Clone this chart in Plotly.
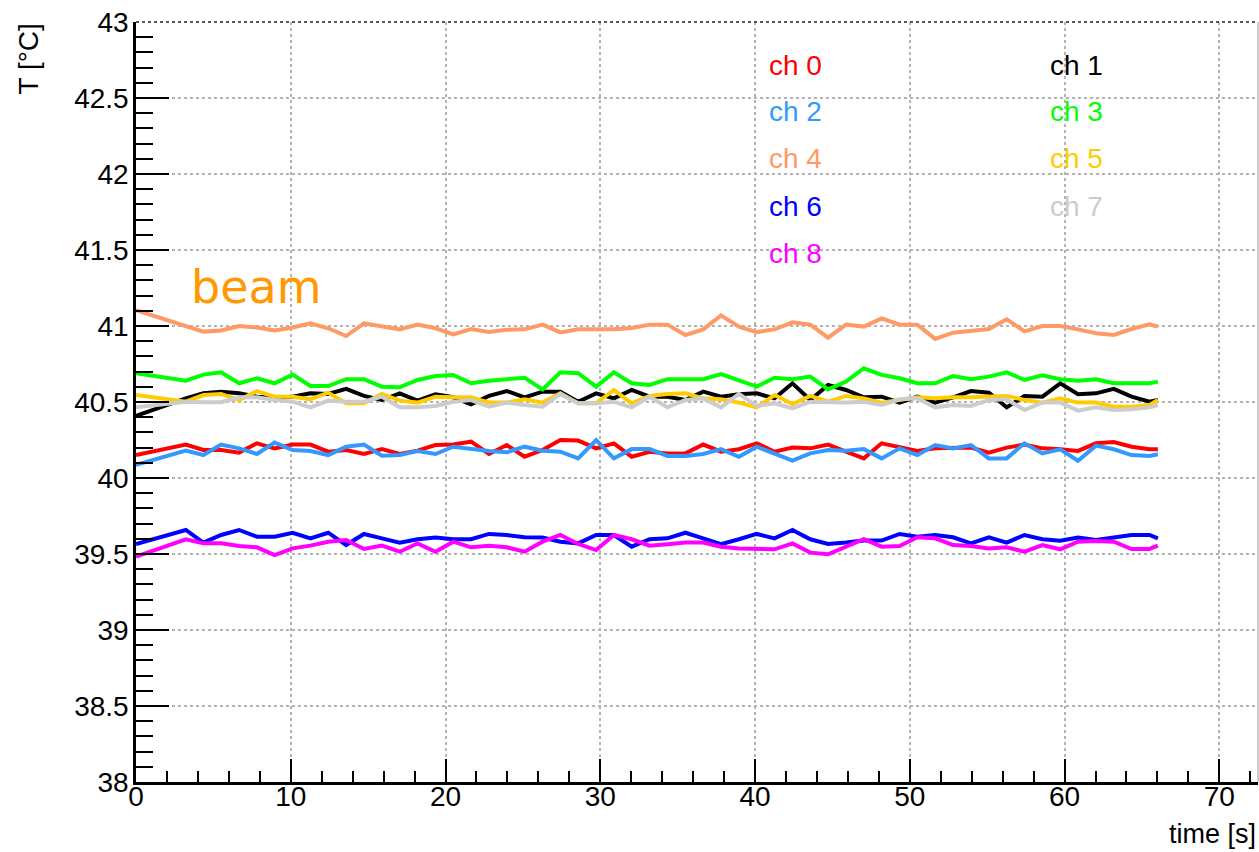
import plotly.graph_objects as go

times = [0, 3.22, 4.35, 5.50, 6.66, 7.81, 8.96, 10.12, 11.27, 12.42, 13.58, 14.73, 15.89,
         17.04, 18.19, 19.35, 20.50, 21.65, 22.81, 23.96, 25.11, 26.27, 27.42, 28.57, 29.73,
         30.88, 32.03, 33.19, 34.34, 35.50, 36.65, 37.80, 38.96, 40.11, 41.26, 42.42, 43.57,
         44.72, 45.88, 47.03, 48.18, 49.34, 50.49, 51.64, 52.80, 53.95, 55.11, 56.26, 57.41,
         58.57, 59.72, 60.87, 62.03, 63.18, 64.33, 65.49, 66.03]

ch0 = [40.151, 40.22, 40.184, 40.184, 40.167, 40.228, 40.195, 40.22, 40.22, 40.173, 40.184, 40.158,
       40.19, 40.158, 40.18, 40.217, 40.22, 40.239, 40.158, 40.217,
       40.14, 40.184, 40.25, 40.246, 40.195, 40.228, 40.14, 40.173, 40.162, 40.162, 40.22, 40.173,
       40.189, 40.228, 40.173, 40.2, 40.195, 40.22, 40.173, 40.129, 40.228,
       40.206, 40.178, 40.195, 40.2, 40.2, 40.167, 40.2, 40.22, 40.195, 40.189, 40.178, 40.228,
       40.237, 40.206, 40.189, 40.189]
ch1 = [40.408, 40.524, 40.557, 40.568, 40.557, 40.535, 40.531, 40.535, 40.557, 40.553, 40.586, 40.54,
       40.513, 40.557, 40.509, 40.551, 40.531, 40.485, 40.54, 40.572,
       40.531, 40.568, 40.568, 40.502, 40.557, 40.524, 40.579, 40.535, 40.535, 40.513, 40.568, 40.535,
       40.551, 40.557, 40.524, 40.623, 40.513, 40.612, 40.579, 40.531, 40.535,
       40.496, 40.535, 40.496, 40.531, 40.572, 40.561, 40.465, 40.54, 40.535, 40.623, 40.551, 40.557,
       40.586, 40.535, 40.502, 40.513]
ch2 = [40.086, 40.18, 40.151, 40.22, 40.195, 40.158, 40.233, 40.184, 40.178, 40.151, 40.206, 40.22,
       40.147, 40.151, 40.178, 40.158, 40.206, 40.189, 40.178, 40.169,
       40.206, 40.18, 40.173, 40.129, 40.25, 40.129, 40.19, 40.19, 40.145, 40.145, 40.158, 40.19,
       40.14, 40.206, 40.162, 40.114, 40.162, 40.184, 40.18, 40.19, 40.129,
       40.195, 40.151, 40.217, 40.195, 40.217, 40.129, 40.129, 40.228, 40.162, 40.189, 40.114, 40.213,
       40.189, 40.151, 40.145, 40.156]
ch3 = [40.689, 40.64, 40.68, 40.695, 40.623, 40.656, 40.623, 40.68, 40.605, 40.605, 40.65, 40.65,
       40.601, 40.597, 40.645, 40.671, 40.678, 40.623, 40.64, 40.65,
       40.66, 40.583, 40.695, 40.689, 40.601, 40.695, 40.623, 40.612, 40.65, 40.65, 40.65, 40.684,
       40.645, 40.601, 40.66, 40.65, 40.667, 40.583, 40.634, 40.722, 40.678,
       40.656, 40.623, 40.623, 40.671, 40.65, 40.667, 40.695, 40.645, 40.676, 40.65, 40.64, 40.65,
       40.623, 40.623, 40.623, 40.634]
ch4 = [41.105, 41.00, 40.963, 40.97, 41.00, 40.99, 40.97, 40.99, 41.018, 40.985, 40.934, 41.018,
       40.996, 40.978, 41.009, 40.985, 40.945, 40.98, 40.96, 40.975,
       40.978, 41.009, 40.958, 40.978, 40.978, 40.978, 40.987, 41.009, 41.009, 40.941, 40.978, 41.07,
       40.996, 40.96, 40.978, 41.024, 41.009, 40.923, 41.009, 40.996, 41.05,
       41.009, 41.009, 40.915, 40.956, 40.965, 40.98, 41.044, 40.965, 41.0, 41.0, 40.978, 40.952,
       40.941, 40.98, 41.011, 40.996]
ch5 = [40.546, 40.502, 40.546, 40.553, 40.513, 40.572, 40.535, 40.535, 40.518, 40.561, 40.491, 40.491,
       40.553, 40.509, 40.496, 40.535, 40.531, 40.531, 40.496, 40.496,
       40.518, 40.496, 40.557, 40.491, 40.491, 40.579, 40.491, 40.54, 40.553, 40.557, 40.524, 40.518,
       40.496, 40.465, 40.546, 40.487, 40.54, 40.502, 40.54, 40.524, 40.496,
       40.513, 40.531, 40.524, 40.531, 40.531, 40.535, 40.54, 40.513, 40.496, 40.524, 40.496, 40.496,
       40.469, 40.469, 40.48, 40.513]
ch6 = [39.566, 39.658, 39.575, 39.625, 39.658, 39.614, 39.614, 39.64, 39.603, 39.64, 39.559, 39.632,
       39.603, 39.575, 39.597, 39.608, 39.597, 39.597, 39.632, 39.625,
       39.61, 39.608, 39.581, 39.57, 39.625, 39.625, 39.548, 39.597, 39.603, 39.64, 39.603, 39.564,
       39.597, 39.632, 39.603, 39.658, 39.597, 39.566, 39.575, 39.588, 39.588,
       39.632, 39.614, 39.625, 39.61, 39.57, 39.61, 39.575, 39.625, 39.597, 39.588, 39.608, 39.592,
       39.61, 39.625, 39.625, 39.603]
ch7 = [40.465, 40.502, 40.498, 40.498, 40.531, 40.531, 40.513, 40.502, 40.465, 40.509, 40.502, 40.502,
       40.535, 40.465, 40.465, 40.474, 40.502, 40.513, 40.469, 40.496,
       40.48, 40.469, 40.553, 40.491, 40.491, 40.502, 40.465, 40.535, 40.465, 40.513, 40.524, 40.465,
       40.553, 40.474, 40.491, 40.458, 40.502, 40.496, 40.496, 40.502, 40.48,
       40.518, 40.524, 40.465, 40.48, 40.474, 40.513, 40.518, 40.447, 40.496, 40.496, 40.443, 40.465,
       40.447, 40.452, 40.465, 40.48]
ch8 = [39.483, 39.597, 39.57, 39.57, 39.553, 39.544, 39.493, 39.537, 39.555, 39.581, 39.592, 39.533,
       39.555, 39.515, 39.57, 39.515, 39.581, 39.544, 39.555, 39.544,
       39.515, 39.581, 39.625, 39.566, 39.526, 39.625, 39.597, 39.555, 39.564, 39.575, 39.575, 39.548,
       39.537, 39.531, 39.531, 39.57, 39.509, 39.498, 39.548, 39.597, 39.548,
       39.553, 39.61, 39.603, 39.559, 39.553, 39.537, 39.544, 39.515, 39.559, 39.531, 39.581, 39.586,
       39.581, 39.533, 39.533, 39.555]

names = ["ch 0", "ch 1", "ch 2", "ch 3", "ch 4", "ch 5", "ch 6", "ch 7", "ch 8"]
series = [ch0, ch1, ch2, ch3, ch4, ch5, ch6, ch7, ch8]
colors = ["#ff0000", "#000000", "#3399ff", "#00ff00", "#ff9966", "#ffcc00", "#0000ff", "#cccccc", "#ff00ff"]

x_range = [0, 72.5]
y_range = [38, 43]

FONT = "Liberation Sans, Arial, Helvetica, sans-serif"

fig = go.Figure()
for name, ys, col in zip(names, series, colors):
    fig.add_trace(go.Scatter(x=times, y=ys, mode="lines", name=name,
                             line=dict(color=col, width=4), showlegend=False))

# legend as coloured text (two columns)
leg_x = [40.75, 58.9]
leg_y = [42.717, 42.408, 42.099, 41.783, 41.474]
for i, (name, col) in enumerate(zip(names, colors)):
    fig.add_annotation(x=leg_x[i % 2], y=leg_y[i // 2], xref="x", yref="y", text=name,
                       showarrow=False, xanchor="left", yanchor="middle",
                       font=dict(family=FONT, size=28, color=col))

fig.add_annotation(x=3.4, y=41.255, xref="x", yref="y", text="beam", showarrow=False,
                   xanchor="left", yanchor="middle",
                   font=dict(family="DejaVu Sans, Verdana, sans-serif", size=46, color="#ff9900"))

# axis titles
fig.add_annotation(x=1.0, y=0, xref="paper", yref="paper", yshift=-52, text="time [s]",
                   showarrow=False, xanchor="right", yanchor="middle",
                   font=dict(family=FONT, size=27, color="black"))
fig.add_annotation(x=0, y=1.0, xref="paper", yref="paper", xshift=-108, text="T [°C]",
                   showarrow=False, xanchor="center", yanchor="top", textangle=-90,
                   font=dict(family=FONT, size=28, color="black"))

# frame: top dashed, right thin grey
fig.add_shape(type="line", xref="paper", yref="paper", x0=0, x1=1, y0=1, y1=1,
              line=dict(color="#222222", width=1.5, dash="dot"))
fig.add_shape(type="line", xref="paper", yref="paper", x0=1, x1=1, y0=0, y1=1,
              line=dict(color="#999999", width=1))

fig.update_xaxes(range=x_range, dtick=10, tick0=0, ticks="inside", ticklen=23, tickwidth=2,
                 tickcolor="black", showline=True, linecolor="black", linewidth=2.5,
                 showgrid=True, gridcolor="#b4b4b4", griddash="dot", gridwidth=1.5,
                 zeroline=False, ticklabelstandoff=-12,
                 tickfont=dict(family=FONT, size=28, color="black"),
                 minor=dict(dtick=2, tick0=0, ticks="inside", ticklen=11, tickwidth=2,
                            tickcolor="black", showgrid=False))
fig.update_yaxes(range=y_range, dtick=0.5, tick0=38, ticks="inside", ticklen=33, tickwidth=2,
                 tickcolor="black", showline=True, linecolor="black", linewidth=2.5,
                 showgrid=True, gridcolor="#b4b4b4", griddash="dot", gridwidth=1.5,
                 zeroline=False, ticklabelstandoff=-1,
                 tickfont=dict(family=FONT, size=28, color="black"),
                 minor=dict(dtick=0.1, tick0=38, ticks="inside", ticklen=17, tickwidth=2,
                            tickcolor="black", showgrid=False))

fig.update_layout(width=1259, height=852, margin=dict(l=136, r=1, t=22, b=70),
                  plot_bgcolor="white", paper_bgcolor="white", showlegend=False)

fig.write_html("out.html")
